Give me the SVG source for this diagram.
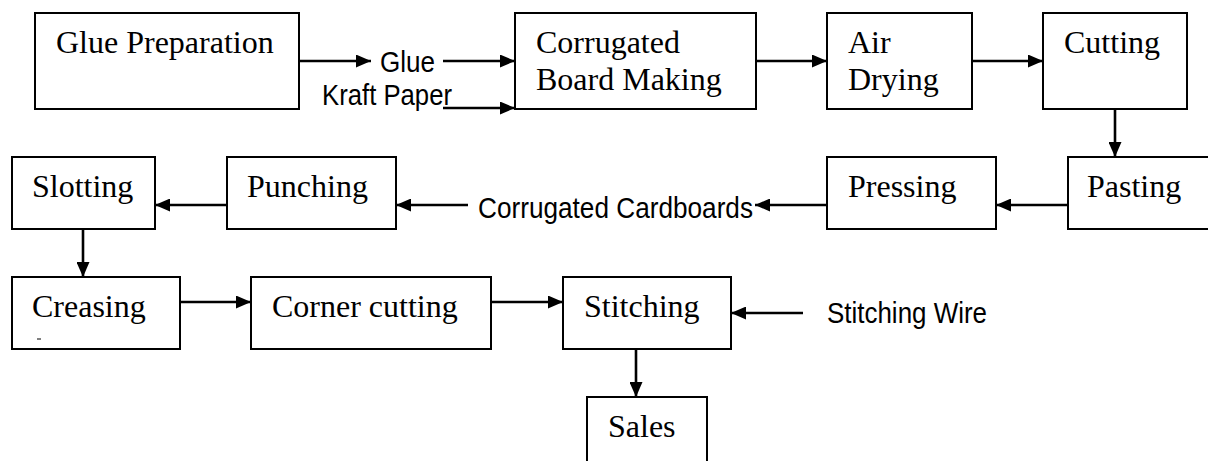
<svg xmlns="http://www.w3.org/2000/svg" width="1208" height="461" viewBox="0 0 1208 461">
<style>
.box{fill:#fff;stroke:#000;stroke-width:2}
.t{font-family:"Liberation Serif","Times New Roman",serif;font-size:32px;fill:#000}
.lbl{font-family:"Liberation Sans",Arial,sans-serif;font-size:30px;fill:#000}
.c{fill:none;stroke:#000;stroke-width:2.6;marker-end:url(#ah)}
</style>
<defs>
<marker id="ah" viewBox="0 0 15 13" refX="15" refY="6.5" markerWidth="15" markerHeight="13" markerUnits="userSpaceOnUse" orient="auto">
<path d="M0,0 L15,6.5 L0,13 z" fill="#000"/>
</marker>
</defs>
<rect width="1208" height="461" fill="#fff"/>
<g id="glue-prep"><rect class="box" x="35" y="13" width="264" height="96"/><text class="t" x="56" y="53">Glue Preparation</text></g>
<g id="board-making"><rect class="box" x="515" y="13" width="241" height="96"/><text class="t" x="536" y="53">Corrugated</text><text class="t" x="536" y="90">Board Making</text></g>
<g id="air-drying"><rect class="box" x="827" y="13" width="145" height="96"/><text class="t" x="848" y="53">Air</text><text class="t" x="848" y="90">Drying</text></g>
<g id="cutting"><rect class="box" x="1043" y="13" width="144" height="96"/><text class="t" x="1064" y="53">Cutting</text></g>
<g id="pasting"><rect class="box" x="1068" y="157" width="150" height="72"/><text class="t" x="1087" y="197">Pasting</text></g>
<g id="pressing"><rect class="box" x="827" y="157" width="169" height="72"/><text class="t" x="848" y="197">Pressing</text></g>
<g id="punching"><rect class="box" x="227" y="157" width="169" height="72"/><text class="t" x="247" y="197">Punching</text></g>
<g id="slotting"><rect class="box" x="12" y="157" width="143" height="72"/><text class="t" x="32" y="197">Slotting</text></g>
<g id="creasing"><rect class="box" x="12" y="277" width="168" height="72"/><text class="t" x="32" y="317">Creasing</text><line x1="37" y1="339" x2="41" y2="339" stroke="#000" stroke-width="1"/></g>
<g id="corner-cutting"><rect class="box" x="251" y="277" width="240" height="72"/><text class="t" x="272" y="317">Corner cutting</text></g>
<g id="stitching"><rect class="box" x="563" y="277" width="168" height="72"/><text class="t" x="584" y="317">Stitching</text></g>
<g id="sales"><rect class="box" x="587" y="397" width="120" height="72"/><text class="t" x="608" y="437">Sales</text></g>
<g id="glue-label"><text class="lbl" x="380" y="72" textLength="55" lengthAdjust="spacingAndGlyphs">Glue</text></g>
<g id="kraft-label"><text class="lbl" x="322" y="105" textLength="130" lengthAdjust="spacingAndGlyphs">Kraft Paper</text></g>
<g id="cardboards-label"><text class="lbl" x="478" y="218" textLength="275" lengthAdjust="spacingAndGlyphs">Corrugated Cardboards</text></g>
<g id="wire-label"><text class="lbl" x="827" y="323" textLength="160" lengthAdjust="spacingAndGlyphs">Stitching Wire</text></g>
<g id="connectors">
<path class="c" d="M299,61 H371"/>
<path class="c" d="M443,61 H515"/>
<path class="c" d="M443,108 H515"/>
<path class="c" d="M756,61 H827"/>
<path class="c" d="M972,61 H1043"/>
<path class="c" d="M1115,109 V157"/>
<path class="c" d="M1068,205 H996"/>
<path class="c" d="M827,205 H755"/>
<path class="c" d="M468,205 H396"/>
<path class="c" d="M227,205 H155"/>
<path class="c" d="M83,229 V277"/>
<path class="c" d="M180,302 H251"/>
<path class="c" d="M491,302 H563"/>
<path class="c" d="M803,313 H731"/>
<path class="c" d="M636,349 V397"/>
</g>
</svg>
